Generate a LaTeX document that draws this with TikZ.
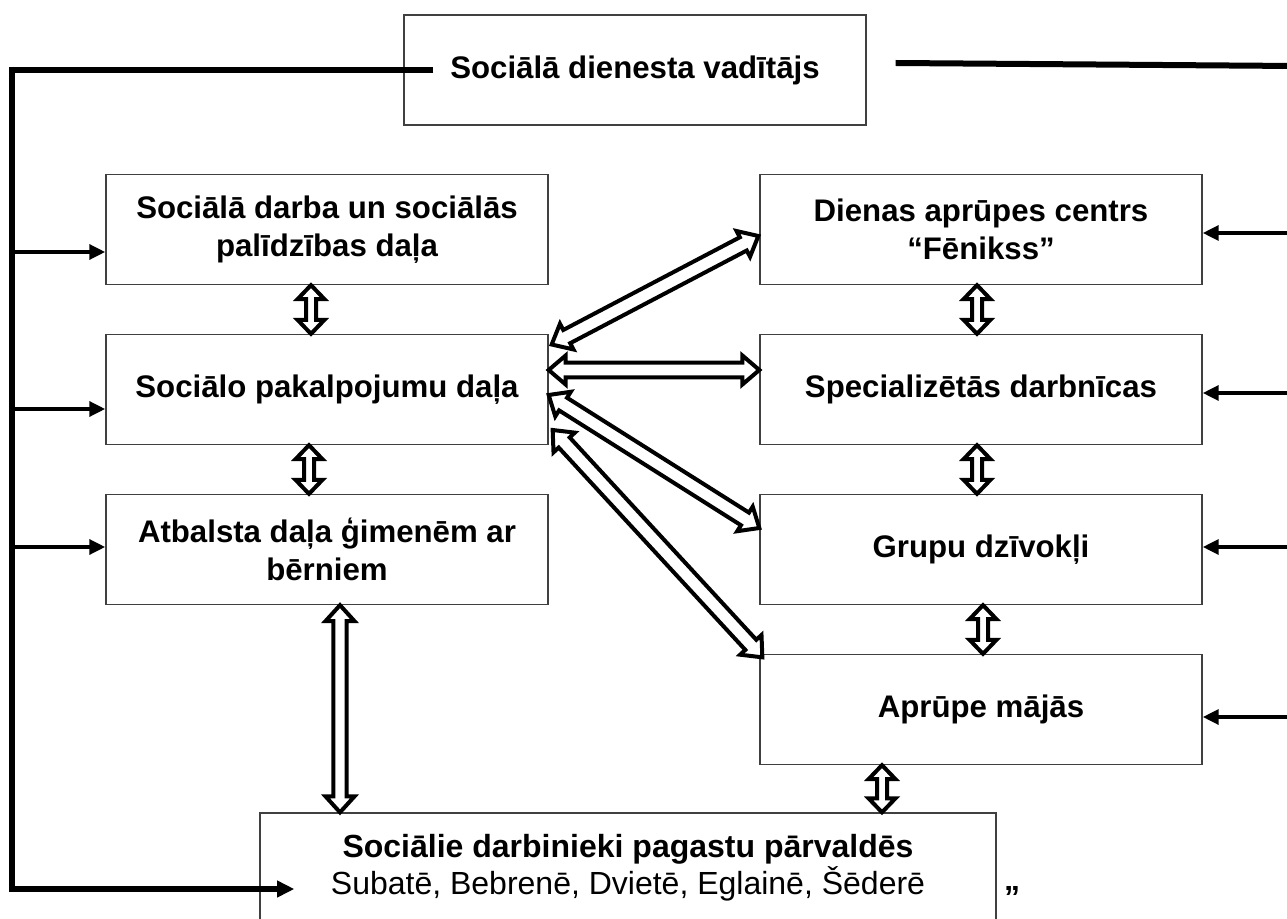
\documentclass[tikz,border=0pt]{standalone}
\usepackage{fontspec}
\setmainfont{Liberation Sans}
\usetikzlibrary{calc,arrows.meta}
% hollow double arrow: #1 start, #2 end, #3 head length, #4 head half width, #5 shaft half width
\newcommand{\hollowarrow}[5]{%
  \draw[hollowline] (#1) -- ($(#1)!#3!(#2)!#4!90:(#2)$) -- ($(#1)!#3!(#2)!#5!90:(#2)$)
    -- ($(#2)!#3!(#1)!#5!-90:(#1)$) -- ($(#2)!#3!(#1)!#4!-90:(#1)$) -- (#2)
    -- ($(#2)!#3!(#1)!#4!90:(#1)$) -- ($(#2)!#3!(#1)!#5!90:(#1)$)
    -- ($(#1)!#3!(#2)!#5!-90:(#2)$) -- ($(#1)!#3!(#2)!#4!-90:(#2)$) -- cycle;}
\tikzset{
  box/.style={draw=black!75, line width=1pt, fill=white, align=center, inner sep=0pt,
    minimum height=82.5pt, font=\fontsize{23.4}{28}\selectfont\bfseries},
  lbox/.style={box, minimum width=331.5pt},
  hollowline/.style={draw=black, fill=white, line width=3pt, line join=miter},
  bus/.style={line width=4.2pt, line join=miter},
  feed/.style={line width=3.2pt, -{Triangle[length=12pt,width=11pt]}},
}
\begin{document}
\begin{tikzpicture}[x=0.75pt,y=-0.75pt]
\useasboundingbox (0,0) rectangle (1287,919);
\clip (0,0) rectangle (1287,919);
\fill[white] (0,0) rectangle (1287,919);

% boxes
\node[box, minimum width=346.5pt] (top) at (635,70) {Sociālā dienesta vadītājs};
\node[lbox] (b1) at (327,229.5) {Sociālā darba un sociālās\\palīdzības daļa};
\node[lbox] (b2) at (327,389.5) {Sociālo pakalpojumu daļa};
\node[lbox] (b3) at (327,549.5) {Atbalsta daļa ģimenēm ar\\bērniem};
\node[lbox] (r1) at (981,229.5) {Dienas aprūpes centrs\\“Fēnikss”};
\node[lbox] (r2) at (981,389.5) {Specializētās darbnīcas};
\node[lbox] (r3) at (981,549.5) {Grupu dzīvokļi};
\node[lbox] (r4) at (981,709.5) {Aprūpe mājās};
\node[box, minimum width=552pt, font=\fontsize{24}{27.75}\selectfont] (bot) at (628,868)
  {\textbf{Sociālie darbinieki pagastu pārvaldēs}\\Subatē, Bebrenē, Dvietē, Eglainē, Šēderē};
\node[font=\fontsize{24}{28}\selectfont\bfseries, inner sep=0pt] (q) at (1012,897) {”};

% left bus
\coordinate (tl) at ($(top.west)+(30,0)$);
\coordinate (cTL) at (12,70);
\coordinate (cBL) at (12,889);
\coordinate (botin) at ($(bot.west)+(35,21)$);
\draw[bus, -{Triangle[length=13pt,width=12pt]}] (tl) -- (cTL) -- (cBL) -- (botin);
\coordinate (l1) at (12,252);
\coordinate (l2) at (12,409);
\coordinate (l3) at (12,547);
\draw[feed] (l1) -- (l1 -| b1.west);
\draw[feed] (l2) -- (l2 -| b2.west);
\draw[feed] (l3) -- (l3 -| b3.west);

% right bus
\coordinate (tr1) at ($(top.east)+(29,-7)$);
\coordinate (tr2) at (1295,66);
\draw[line width=4.5pt] (tr1) -- (tr2);
\coordinate (rr1) at (1295,233);
\coordinate (rr2) at (1295,393);
\coordinate (rr3) at (1295,547);
\coordinate (rr4) at (1295,717);
\draw[feed] (rr1) -- (rr1 -| r1.east);
\draw[feed] (rr2) -- (rr2 -| r2.east);
\draw[feed] (rr3) -- (rr3 -| r3.east);
\draw[feed] (rr4) -- (rr4 -| r4.east);

% diagonal hollow arrows
\coordinate (d1a) at ($(b2.east)+(3,-45)$);
\coordinate (d1b) at ($(r1.west)+(-1,6.5)$);
\coordinate (d2a) at ($(b2.east)+(0,-19.5)$);
\coordinate (d2b) at ($(r2.west)+(0,-19.5)$);
\coordinate (d3a) at ($(b2.east)+(0,5.5)$);
\coordinate (d3b) at ($(r3.west)+(0,-21.5)$);
\coordinate (d4a) at ($(b2.east)+(4,40.5)$);
\coordinate (d4b) at ($(r4.north west)+(3,3.5)$);
\hollowarrow{d1a}{d1b}{12.75pt}{10.9pt}{5.6pt}
\hollowarrow{d2a}{d2b}{12.75pt}{10.9pt}{5.6pt}
\hollowarrow{d3a}{d3b}{12.75pt}{10.9pt}{5.6pt}
\hollowarrow{d4a}{d4b}{12.75pt}{10.9pt}{5.6pt}

% vertical hollow arrows
\coordinate (v1a) at ($(b1.south)+(-16,0)$);
\coordinate (v1b) at ($(b2.north)+(-16,0)$);
\coordinate (v2a) at ($(b2.south)+(-18,0)$);
\coordinate (v2b) at ($(b3.north)+(-18,0)$);
\coordinate (v3a) at ($(b3.south)+(13,0)$);
\coordinate (v3b) at ($(bot.north)+(-288,0)$);
\coordinate (w1a) at ($(r1.south)+(-4,0)$);
\coordinate (w1b) at ($(r2.north)+(-4,0)$);
\coordinate (w2a) at ($(r2.south)+(-4,0)$);
\coordinate (w2b) at ($(r3.north)+(-4,0)$);
\coordinate (w3a) at ($(r3.south)+(2,0)$);
\coordinate (w3b) at ($(r4.north)+(2,0)$);
\coordinate (w4a) at ($(r4.south)+(-99,0)$);
\coordinate (w4b) at ($(bot.north)+(254,0)$);
\hollowarrow{v1a}{v1b}{10.5pt}{10.1pt}{3.75pt}
\hollowarrow{v2a}{v2b}{10.5pt}{10.1pt}{3.75pt}
\hollowarrow{v3a}{v3b}{12pt}{10.9pt}{5pt}
\hollowarrow{w1a}{w1b}{10.5pt}{10.1pt}{3.75pt}
\hollowarrow{w2a}{w2b}{10.5pt}{10.1pt}{3.75pt}
\hollowarrow{w3a}{w3b}{10.5pt}{10.1pt}{3.75pt}
\hollowarrow{w4a}{w4b}{10.5pt}{10.1pt}{3.75pt}
\end{tikzpicture}
\end{document}
